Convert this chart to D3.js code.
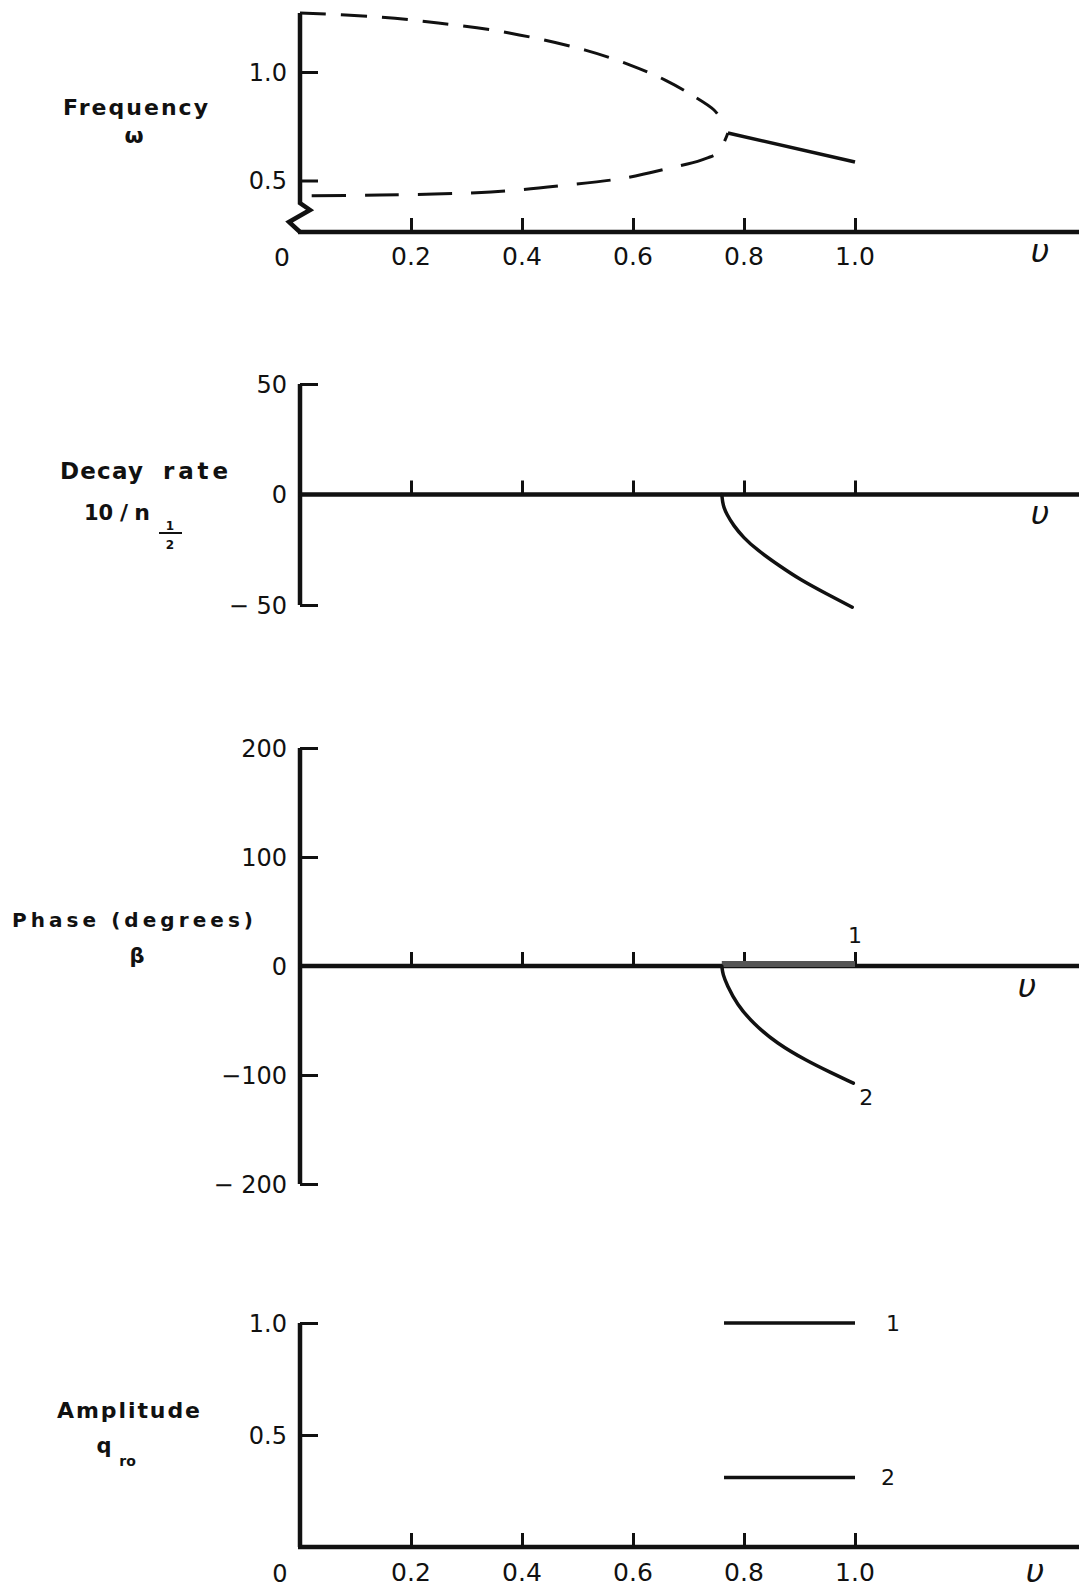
<!DOCTYPE html>
<html><head><meta charset="utf-8">
<script src="https://cdn.jsdelivr.net/npm/d3@7"></script>
<style>
html,body{margin:0;padding:0;background:#fff;}
svg{display:block;}
text{font-family:"DejaVu Sans",sans-serif;fill:#111;}
</style></head><body>
<svg id="fig" width="1079" height="1590"></svg>
<script>
// ν ticks shared by every panel
const nuTicks = [0.2, 0.4, 0.6, 0.8, 1.0];
const nuTickLabels = ["0.2", "0.4", "0.6", "0.8", "1.0"];

// Frequency ω against ν
const freqTicks = [0.5, 1.0];
const freqTickLabels = ["0.5", "1.0"];
const freqUpper = [[0, 1.272], [0.144, 1.253], [0.249, 1.226], [0.377, 1.180], [0.514, 1.101],
  [0.595, 1.032], [0.658, 0.963], [0.706, 0.894], [0.746, 0.825], [0.762, 0.770]];
const freqLower = [[0, 0.429], [0.144, 0.433], [0.344, 0.447], [0.481, 0.479], [0.586, 0.512],
  [0.667, 0.558], [0.723, 0.594], [0.755, 0.631], [0.766, 0.687], [0.771, 0.719]];
const freqSolid = [[0.771, 0.719], [1.0, 0.585]];

// Decay rate 10/n½ against ν
const decayTicks = [-50, 0, 50];
const decayTickLabels = ["− 50", "0", "50"];
const decay = [[0.760, 0], [0.762, -5], [0.769, -9], [0.781, -14], [0.799, -19.5], [0.823, -25],
  [0.865, -32.5], [0.901, -38.5], [0.949, -45], [0.995, -51]];

// Phase β (degrees) against ν
const phaseTicks = [-200, -100, 0, 100, 200];
const phaseTickLabels = ["− 200", "−100", "0", "100", "200"];
const phase1 = [[0.760, 0], [1.0, 0]];
const phase2 = [[0.760, 0], [0.762, -8], [0.769, -17], [0.787, -35], [0.817, -53], [0.859, -71],
  [0.913, -87], [0.955, -97.5], [0.997, -107.5]];

// Amplitude q_ro against ν
const ampTicks = [0.5, 1.0];
const ampTickLabels = ["0.5", "1.0"];
const amp1 = [[0.764, 1.0], [1.0, 1.0]];
const amp2 = [[0.764, 0.31], [1.0, 0.31]];

const svg = d3.select("#fig");
const W = 1079;
const x = d3.scaleLinear().domain([0, 1]).range([300, 855]);
const AXW = 4.5, CURVEW = 3.5, TICKW = 3;

function lineGen(y, curve) {
  return d3.line().x(d => x(d[0])).y(d => y(d[1])).curve(curve || d3.curveCatmullRom.alpha(0.5));
}

function xTicks(g, yBase) {
  const a = g.append("g").attr("transform", `translate(0,${yBase})`)
    .call(d3.axisTop(x).tickValues(nuTicks).tickSize(14).tickFormat(""));
  a.select(".domain").remove();
  a.selectAll("line").attr("stroke", "#111").attr("stroke-width", TICKW);
}
function xAxisLine(g, yBase) {
  g.append("line").attr("x1", x(0) - 2).attr("x2", W).attr("y1", yBase).attr("y2", yBase)
    .attr("stroke", "#111").attr("stroke-width", AXW);
}
function yTicks(g, y, vals) {
  const a = g.append("g").attr("transform", `translate(${x(0)},0)`)
    .call(d3.axisRight(y).tickValues(vals).tickSize(18).tickFormat(""));
  a.select(".domain").remove();
  a.selectAll("line").attr("stroke", "#111").attr("stroke-width", TICKW);
}
function yLabels(g, y, vals, labels) {
  g.selectAll(null).data(vals).enter().append("text")
    .attr("x", 287).attr("y", d => y(d)).attr("dy", "0.36em")
    .attr("text-anchor", "end").attr("font-size", 24).text((d, i) => labels[i]);
}
function xLabels(g, baseline) {
  g.selectAll(null).data(nuTicks).enter().append("text")
    .attr("x", d => x(d)).attr("y", baseline)
    .attr("text-anchor", "middle").attr("font-size", 25).text((d, i) => nuTickLabels[i]);
}
function nuLabel(g, cx, cy) {
  g.append("text").attr("x", cx).attr("y", cy).attr("dy", "0.3em")
    .attr("text-anchor", "middle").attr("font-family", "Liberation Serif")
    .attr("font-style", "italic").attr("font-size", 32).text("υ");
}
function title(g, txt, cx, baseline, size, width, anchor) {
  const t = g.append("text").attr("x", cx).attr("y", baseline).attr("text-anchor", anchor || "middle")
    .attr("font-size", size).attr("font-weight", "bold").text(txt);
  if (width) t.attr("textLength", width).attr("lengthAdjust", "spacing");
  return t;
}

// ---------- Panel 1: frequency ----------
{
  const g = svg.append("g");
  const y = d3.scaleLinear().domain([0.5, 1.0]).range([180.5, 72]);
  const yBase = 232, yTop = y(1.272);
  // y axis with a broken (zig-zag) foot
  g.append("path")
    .attr("d", `M${x(0)},${yTop} V${yBase - 29} L${x(0) + 10},${yBase - 22} L${x(0) - 11},${yBase - 10} L${x(0)},${yBase}`)
    .attr("fill", "none").attr("stroke", "#111").attr("stroke-width", AXW).attr("stroke-linejoin", "miter");
  xAxisLine(g, yBase);
  yTicks(g, y, freqTicks);
  xTicks(g, yBase);
  yLabels(g, y, freqTicks, freqTickLabels);
  xLabels(g, 265);
  g.append("text").attr("x", 282).attr("y", 266).attr("text-anchor", "middle").attr("font-size", 25).text("0");
  nuLabel(g, 1040, 252);
  const ln = lineGen(y);
  g.append("path").attr("d", ln(freqUpper)).attr("fill", "none").attr("stroke", "#111")
    .attr("stroke-width", 3).attr("stroke-dasharray", "26,15");
  g.append("path").attr("d", ln(freqLower)).attr("fill", "none").attr("stroke", "#111")
    .attr("stroke-width", 3).attr("stroke-dasharray", "34,19").attr("stroke-dashoffset", -12);
  g.append("path").attr("d", ln(freqSolid)).attr("fill", "none").attr("stroke", "#111")
    .attr("stroke-width", CURVEW);
  title(g, "Frequency", 135.5, 115, 22, 145);
  title(g, "ω", 134, 143, 22);
}

// ---------- Panel 2: decay rate ----------
{
  const g = svg.append("g");
  const y = d3.scaleLinear().domain([-50, 50]).range([605, 384]);
  g.append("line").attr("x1", x(0)).attr("x2", x(0)).attr("y1", y(50)).attr("y2", y(-50))
    .attr("stroke", "#111").attr("stroke-width", AXW);
  yTicks(g, y, [50, -50]);
  xAxisLine(g, y(0));
  xTicks(g, y(0));
  yLabels(g, y, decayTicks, decayTickLabels);
  nuLabel(g, 1040, 514);
  g.append("path").attr("d", lineGen(y, d3.curveBasis)(decay)).attr("fill", "none").attr("stroke", "#111")
    .attr("stroke-width", CURVEW).attr("stroke-linecap", "round");
  title(g, "Decay", 60, 479, 23, 83, "start");
  title(g, "rate", 163, 479, 23, 65, "start");
  title(g, "10", 84, 520, 21, null, "start");
  title(g, "/", 124, 520, 22);
  title(g, "n", 142, 520, 22);
  title(g, "1", 170, 530, 12);
  g.append("line").attr("x1", 159).attr("x2", 182).attr("y1", 533).attr("y2", 533)
    .attr("stroke", "#111").attr("stroke-width", 2);
  title(g, "2", 170, 549, 12);
}

// ---------- Panel 3: phase ----------
{
  const g = svg.append("g");
  const y = d3.scaleLinear().domain([-200, 200]).range([1184, 748]);
  g.append("line").attr("x1", x(0)).attr("x2", x(0)).attr("y1", y(200)).attr("y2", y(-200))
    .attr("stroke", "#111").attr("stroke-width", AXW);
  yTicks(g, y, [200, 100, -100, -200]);
  xAxisLine(g, y(0));
  xTicks(g, y(0));
  yLabels(g, y, phaseTicks, phaseTickLabels);
  nuLabel(g, 1027, 987);
  g.append("path").attr("d", d3.line().x(d => x(d[0])).y(d => y(d[1]) - 2)(phase1))
    .attr("fill", "none").attr("stroke", "#555").attr("stroke-width", 6);
  g.append("path").attr("d", lineGen(y, d3.curveBasis)(phase2)).attr("fill", "none").attr("stroke", "#111")
    .attr("stroke-width", CURVEW).attr("stroke-linecap", "round");
  g.append("text").attr("x", x(phase1[1][0])).attr("y", 943).attr("text-anchor", "middle")
    .attr("font-size", 22).text("1");
  g.append("text").attr("x", x(phase2[phase2.length - 1][0]) + 13).attr("y", 1105).attr("text-anchor", "middle")
    .attr("font-size", 22).text("2");
  title(g, "Phase  (degrees)", 132.5, 927, 20, 241);
  title(g, "β", 137, 963, 21);
}

// ---------- Panel 4: amplitude ----------
{
  const g = svg.append("g");
  const y = d3.scaleLinear().domain([0, 1]).range([1547, 1323]);
  g.append("line").attr("x1", x(0)).attr("x2", x(0)).attr("y1", y(1)).attr("y2", y(0))
    .attr("stroke", "#111").attr("stroke-width", AXW);
  yTicks(g, y, ampTicks);
  xAxisLine(g, y(0));
  xTicks(g, y(0));
  yLabels(g, y, ampTicks, ampTickLabels);
  xLabels(g, 1581);
  g.append("text").attr("x", 280).attr("y", 1582).attr("text-anchor", "middle").attr("font-size", 24).text("0");
  nuLabel(g, 1035, 1572);
  const ln = d3.line().x(d => x(d[0])).y(d => y(d[1]));
  [amp1, amp2].forEach((s, i) => {
    g.append("path").attr("d", ln(s)).attr("fill", "none").attr("stroke", "#111").attr("stroke-width", 3.5);
    g.append("text").attr("x", x(s[1][0]) + 38 - i * 5).attr("y", y(s[1][1])).attr("dy", "0.36em")
      .attr("text-anchor", "middle").attr("font-size", 22).text(String(i + 1));
  });
  title(g, "Amplitude", 128.5, 1418, 22, 143);
  title(g, "q", 104, 1453, 21);
  title(g, "ro", 127.5, 1466, 14);
}
</script>
</body></html>
